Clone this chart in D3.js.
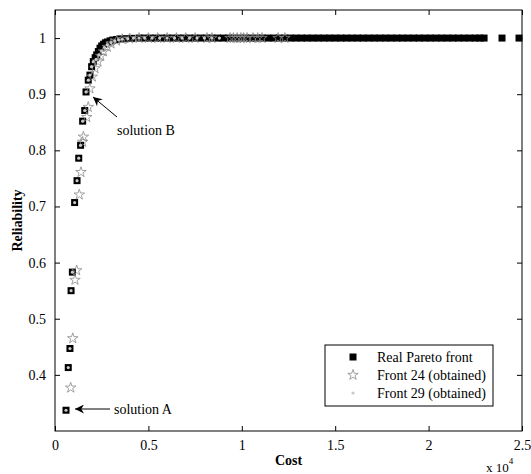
<!DOCTYPE html>
<html>
<head>
<meta charset="utf-8">
<script src="https://cdn.jsdelivr.net/npm/d3@7"></script>
<style>
  body { margin: 0; background: #fff; }
  svg text { font-family: "Liberation Serif", "Times New Roman", serif; fill: #000; }
</style>
</head>
<body>
<div id="chart"></div>
<script>
// real Pareto front (cost, reliability)
var paretoCost = [590, 710, 800, 860, 930, 1050, 1180, 1270, 1370, 1480, 1590, 1660, 1780, 1870, 1960, 2050,
  2150, 2230, 2320, 2410, 2500, 2600, 2700, 2800, 2950, 3100, 3300, 3500, 3800, 4100, 4500,
  4800, 5100, 5400, 5700, 6000, 6300, 6600, 6900, 7200, 7500, 7800, 8100, 8400, 8700, 9000,
  9300, 9600, 9900, 10200, 10500, 10800, 11100, 11400, 11700, 12000, 12300, 12600, 12900,
  13200, 13500, 13800, 14100, 14400, 14700, 15000, 15300, 15600, 15900, 16200, 16500, 16800,
  17100, 17400, 17700, 18000, 18300, 18600, 18900, 19200, 19500, 19800, 20100, 20400, 20700,
  21000, 21300, 21600, 21900, 22200, 22500, 22750, 22970, 23930, 24840];
var paretoRel = [0.337, 0.413, 0.447, 0.550, 0.583, 0.707, 0.746, 0.786, 0.809, 0.852, 0.871, 0.904, 0.925, 0.934, 0.949, 0.958,
  0.965, 0.970, 0.976, 0.982, 0.986, 0.989, 0.9915, 0.993, 0.995, 0.9965, 0.9975, 0.9985, 0.999, 0.9995, 1.0,
  1, 1, 1, 1, 1, 1, 1, 1, 1, 1, 1, 1, 1, 1, 1,
  1, 1, 1, 1, 1, 1, 1, 1, 1, 1, 1, 1, 1,
  1, 1, 1, 1, 1, 1, 1, 1, 1, 1, 1, 1, 1,
  1, 1, 1, 1, 1, 1, 1, 1, 1, 1, 1, 1, 1,
  1, 1, 1, 1, 1, 1, 1, 1, 1, 1];

// front 24 (obtained)
var front24Cost = [840, 950, 1070, 1160, 1300, 1390, 1480, 1520, 1700, 1780, 1870, 2000, 2140, 2300, 2450, 2600,
  2800, 3000, 3300, 3600, 4000, 4500, 5000, 5500, 6000, 6500, 7000, 7500, 8140, 8400, 9370, 9550,
  9750, 9950, 10100, 10280, 10600, 10850, 11080, 11940, 12310];
var front24Rel = [0.377, 0.465, 0.569, 0.586, 0.721, 0.761, 0.815, 0.824, 0.859, 0.877, 0.910, 0.931, 0.946, 0.958, 0.968, 0.976,
  0.984, 0.990, 0.995, 0.998, 0.999, 1.0, 1, 1, 1, 1, 1, 1, 1, 1, 1, 1,
  1, 1, 1, 1, 1, 1, 1, 1, 1];

// front 29 (obtained)
var front29Cost = [590, 710, 800, 860, 930, 1050, 1180, 1270, 1370, 1480, 1590, 1660, 1780, 1870, 1960, 2050,
  2200, 2350, 2500, 2650, 2800, 3000, 3200, 3400, 3600, 3900, 4200, 4500, 4800, 5200, 5600, 6000,
  6400, 6800, 7200, 7600, 8000, 8400, 8800];
var front29Rel = [0.337, 0.413, 0.447, 0.550, 0.583, 0.707, 0.746, 0.786, 0.809, 0.852, 0.871, 0.904, 0.925, 0.934, 0.949, 0.958,
  0.962, 0.970, 0.977, 0.983, 0.988, 0.992, 0.995, 0.997, 0.998, 0.999, 1.0, 1.0, 1, 1, 1, 1,
  1, 1, 1, 1, 1, 1, 1];

var xTicks = [0, 5000, 10000, 15000, 20000, 25000];
var yTicks = [0.4, 0.5, 0.6, 0.7, 0.8, 0.9, 1];
var legendLabels = ["Real Pareto front", "Front 24 (obtained)", "Front 29 (obtained)"];

function zip(xs, ys) {
  return xs.map(function (v, i) { return { x: v, y: ys[i] }; });
}

var width = 531, height = 474;
var mLeft = 55, mRight = 522, mTop = 10, mBottom = 431;

var svg = d3.select("#chart").append("svg")
  .attr("width", width)
  .attr("height", height);

var x = d3.scaleLinear().domain([0, 25000]).range([mLeft, mRight]);
var y = d3.scaleLinear().domain([0.3, 1.05]).range([mBottom, mTop]);

var fmtX = function (d) { return d3.format("~g")(d / 10000); };
var fmtY = function (d) { return d === 1 ? "1" : d3.format(".1f")(d); };

// axes, inside ticks like matlab
var gx = svg.append("g").attr("transform", "translate(0," + mBottom + ")")
  .call(d3.axisBottom(x).tickValues(xTicks).tickSize(-5).tickPadding(9).tickFormat(fmtX));
var gxt = svg.append("g").attr("transform", "translate(0," + mTop + ")")
  .call(d3.axisTop(x).tickValues(xTicks).tickSize(-5).tickFormat(""));
var gy = svg.append("g").attr("transform", "translate(" + mLeft + ",0)")
  .call(d3.axisLeft(y).tickValues(yTicks).tickSize(-5).tickPadding(9).tickFormat(fmtY));
var gyr = svg.append("g").attr("transform", "translate(" + mRight + ",0)")
  .call(d3.axisRight(y).tickValues(yTicks).tickSize(-5).tickFormat(""));

[gx, gxt, gy, gyr].forEach(function (g) {
  g.attr("font-family", null).attr("font-size", null);
  g.select(".domain").remove();
  g.selectAll(".tick line").attr("stroke", "#000");
  g.selectAll("text").style("font-size", "14px").attr("fill", "#000");
});

svg.append("rect")
  .attr("x", mLeft).attr("y", mTop)
  .attr("width", mRight - mLeft).attr("height", mBottom - mTop)
  .attr("fill", "none").attr("stroke", "#000").attr("stroke-width", 1);

var plot = svg.append("g");

// real pareto front: black squares
var sq = 7;
plot.selectAll("rect.pareto")
  .data(zip(paretoCost, paretoRel))
  .enter().append("rect")
  .attr("class", "pareto")
  .attr("x", function (d) { return x(d.x) - sq / 2; })
  .attr("y", function (d) { return y(d.y) - sq / 2; })
  .attr("width", sq).attr("height", sq)
  .attr("fill", "#000");

// front 24: grey stars
var star = d3.symbol().type(d3.symbolStar).size(34);
plot.selectAll("path.f24")
  .data(zip(front24Cost, front24Rel))
  .enter().append("path")
  .attr("class", "f24")
  .attr("d", star)
  .attr("transform", function (d) { return "translate(" + x(d.x) + "," + y(d.y) + ")"; })
  .attr("fill", "none")
  .attr("stroke", "#8a8a8a")
  .attr("stroke-width", 0.8);

// front 29: light grey dots
plot.selectAll("circle.f29")
  .data(zip(front29Cost, front29Rel))
  .enter().append("circle")
  .attr("class", "f29")
  .attr("cx", function (d) { return x(d.x); })
  .attr("cy", function (d) { return y(d.y); })
  .attr("r", 1.6)
  .attr("fill", "#c8c8c8");

// annotations
var defs = svg.append("defs");
defs.append("marker")
  .attr("id", "arr")
  .attr("viewBox", "0 0 10 10")
  .attr("refX", 10).attr("refY", 5)
  .attr("markerWidth", 11).attr("markerHeight", 9)
  .attr("markerUnits", "userSpaceOnUse")
  .attr("orient", "auto")
  .append("path")
  .attr("d", "M0,0 L10,5 L0,10 L3,5 Z")
  .attr("fill", "#000");

svg.append("line")
  .attr("x1", 117).attr("y1", 117)
  .attr("x2", 93).attr("y2", 97)
  .attr("stroke", "#000").attr("stroke-width", 1)
  .attr("marker-end", "url(#arr)");
svg.append("text")
  .attr("x", 117).attr("y", 135)
  .style("font-size", "14px")
  .text("solution B");

svg.append("line")
  .attr("x1", 110).attr("y1", 409)
  .attr("x2", 75).attr("y2", 409)
  .attr("stroke", "#000").attr("stroke-width", 1)
  .attr("marker-end", "url(#arr)");
svg.append("text")
  .attr("x", 114).attr("y", 413.5)
  .style("font-size", "14px")
  .text("solution A");

// axis titles
svg.append("text")
  .attr("x", (mLeft + mRight) / 2).attr("y", 465)
  .attr("text-anchor", "middle")
  .style("font-size", "14px").style("font-weight", "bold")
  .text("Cost");
svg.append("text")
  .attr("transform", "translate(22," + ((mTop + mBottom) / 2) + ") rotate(-90)")
  .attr("text-anchor", "middle")
  .style("font-size", "14px").style("font-weight", "bold")
  .text("Reliability");

var ex = svg.append("text").attr("x", 486).attr("y", 472).style("font-size", "13px");
ex.append("tspan").text("x 10");
ex.append("tspan").attr("dy", -8).style("font-size", "9px").text("4");

// legend
var lg = svg.append("g").attr("transform", "translate(325,345)");
lg.append("rect").attr("width", 168).attr("height", 61)
  .attr("fill", "#fff").attr("stroke", "#000");
var rows = lg.selectAll("g.row").data(legendLabels).enter().append("g")
  .attr("class", "row")
  .attr("transform", function (d, i) { return "translate(0," + (12 + i * 18) + ")"; });
rows.append("text").attr("x", 52).attr("y", 4.5)
  .style("font-size", "14px").text(function (d) { return d; });
rows.filter(function (d, i) { return i === 0; }).append("rect")
  .attr("x", 24.5).attr("y", -3.5).attr("width", 7).attr("height", 7).attr("fill", "#000");
rows.filter(function (d, i) { return i === 1; }).append("path")
  .attr("d", star).attr("transform", "translate(28,0)")
  .attr("fill", "none").attr("stroke", "#8a8a8a").attr("stroke-width", 0.8);
rows.filter(function (d, i) { return i === 2; }).append("circle")
  .attr("cx", 28).attr("cy", 0).attr("r", 1.6).attr("fill", "#c8c8c8");
</script>
</body>
</html>
